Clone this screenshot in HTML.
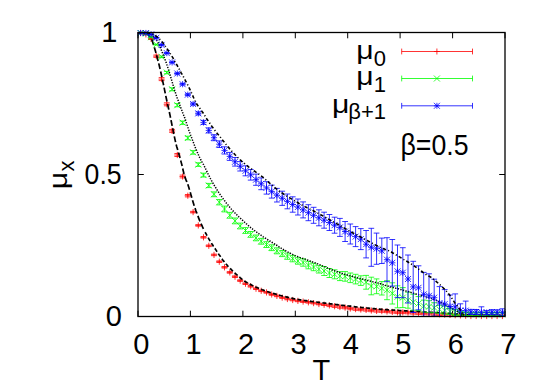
<!DOCTYPE html>
<html><head><meta charset="utf-8"><title>plot</title>
<style>
html,body{margin:0;padding:0;background:#fff;}
body{width:545px;height:390px;overflow:hidden;}
svg{display:block;}
text{font-family:"Liberation Sans",sans-serif;font-size:29px;fill:#000;}
.sub{font-size:22px;}
</style></head><body>
<svg width="545" height="390" viewBox="0 0 545 390">
<rect width="545" height="390" fill="#fff"/>
<defs><clipPath id="c"><rect x="138.0" y="32.5" width="367.0" height="284.0"/></clipPath></defs>
<g fill="none" stroke-linecap="butt">
<path d="M138 316.5v-5.8M138 32.5v5.8M190.4 316.5v-5.8M190.4 32.5v5.8M242.9 316.5v-5.8M242.9 32.5v5.8M295.3 316.5v-5.8M295.3 32.5v5.8M347.7 316.5v-5.8M347.7 32.5v5.8M400.1 316.5v-5.8M400.1 32.5v5.8M452.6 316.5v-5.8M452.6 32.5v5.8M505 316.5v-5.8M505 32.5v5.8M138 316.5h5.8M505 316.5h-5.8M138 174.5h5.8M505 174.5h-5.8M138 32.5h5.8M505 32.5h-5.8" stroke="#000" stroke-width="1"/>
<g stroke="#f00" stroke-width="0.8"><path clip-path="url(#c)" d="M140.6 32.7V33.3M137.7 32.7H143.5M137.7 33.3H143.5M145.9 34.1V34.7M143 34.1H148.8M143 34.7H148.8M151.1 38.3V39.5M148.2 38.3H154M148.2 39.5H154M156.3 55V57.4M153.4 55H159.2M153.4 57.4H159.2M161.6 77.6V80.6M158.7 77.6H164.5M158.7 80.6H164.5M166.8 102.8V105.8M163.9 102.8H169.7M163.9 105.8H169.7M172.1 129.4V132.4M169.2 129.4H175M169.2 132.4H175M177.3 153.5V156.5M174.4 153.5H180.2M174.4 156.5H180.2M182.6 175.1V177.9M179.7 175.1H185.5M179.7 177.9H185.5M187.8 194.5V196.9M184.9 194.5H190.7M184.9 196.9H190.7M193.1 211.3V212.9M190.2 211.3H196M190.2 212.9H196M198.3 224.6V226.2M195.4 224.6H201.2M195.4 226.2H201.2M203.5 236.5V238.1M200.6 236.5H206.4M200.6 238.1H206.4M208.8 245V246.6M205.9 245H211.7M205.9 246.6H211.7M214 254.1V255.7M211.1 254.1H216.9M211.1 255.7H216.9M219.3 260.9V262.5M216.4 260.9H222.2M216.4 262.5H222.2M224.5 266.5V268.1M221.6 266.5H227.4M221.6 268.1H227.4M229.8 271.6V273.2M226.8 271.6H232.7M226.8 273.2H232.7M235 275.9V277.5M232.1 275.9H237.9M232.1 277.5H237.9M240.2 279.8V281.4M237.3 279.8H243.1M237.3 281.4H243.1M245.5 282.9V284.5M242.6 282.9H248.4M242.6 284.5H248.4M250.7 285.5V287.1M247.8 285.5H253.6M247.8 287.1H253.6M256 287.9V289.5M253.1 287.9H258.9M253.1 289.5H258.9M261.2 290V291.6M258.3 290H264.1M258.3 291.6H264.1M266.5 291.6V293.2M263.6 291.6H269.4M263.6 293.2H269.4M271.7 293.7V295.3M268.8 293.7H274.6M268.8 295.3H274.6M276.9 295.1V296.7M274 295.1H279.8M274 296.7H279.8M282.2 296.8V298.4M279.3 296.8H285.1M279.3 298.4H285.1M287.4 298.2V299.8M284.5 298.2H290.3M284.5 299.8H290.3M292.7 299.2V300.8M289.8 299.2H295.6M289.8 300.8H295.6M297.9 300.1V301.7M295 300.1H300.8M295 301.7H300.8M303.1 300.8V302.4M300.2 300.8H306M300.2 302.4H306M308.4 301.5V303.1M305.5 301.5H311.3M305.5 303.1H311.3M313.6 302.3V303.9M310.7 302.3H316.5M310.7 303.9H316.5M318.9 303.2V304.8M316 303.2H321.8M316 304.8H321.8M324.1 303.9V305.5M321.2 303.9H327M321.2 305.5H327M329.4 304.2V306.6M326.5 304.2H332.3M326.5 306.6H332.3M334.6 305V307.4M331.7 305H337.5M331.7 307.4H337.5M339.9 305.8V308.2M337 305.8H342.8M337 308.2H342.8M345.1 306.4V308.8M342.2 306.4H348M342.2 308.8H348M350.3 307.3V309.7M347.4 307.3H353.2M347.4 309.7H353.2M355.6 307.9V310.3M352.7 307.9H358.5M352.7 310.3H358.5M360.8 308.3V310.7M357.9 308.3H363.7M357.9 310.7H363.7M366.1 308.7V311.1M363.2 308.7H369M363.2 311.1H369M371.3 309.3V311.7M368.4 309.3H374.2M368.4 311.7H374.2M376.6 309.7V312.1M373.7 309.7H379.4M373.7 312.1H379.4M381.8 309.9V312.3M378.9 309.9H384.7M378.9 312.3H384.7M387 310.3V312.7M384.1 310.3H389.9M384.1 312.7H389.9M392.3 310.7V313.1M389.4 310.7H395.2M389.4 313.1H395.2M397.5 311.2V313.6M394.6 311.2H400.4M394.6 313.6H400.4M402.8 311.2V313.6M399.9 311.2H405.7M399.9 313.6H405.7M408 311.4V313.8M405.1 311.4H410.9M405.1 313.8H410.9M413.2 311.7V314.1M410.4 311.7H416.1M410.4 314.1H416.1M418.5 312V314.4M415.6 312H421.4M415.6 314.4H421.4M423.7 312.3V314.7M420.8 312.3H426.6M420.8 314.7H426.6M429 312.5V314.9M426.1 312.5H431.9M426.1 314.9H431.9M434.2 312.8V315.2M431.3 312.8H437.1M431.3 315.2H437.1M439.5 313.1V315.5M436.6 313.1H442.4M436.6 315.5H442.4M444.7 313.4V315.8M441.8 313.4H447.6M441.8 315.8H447.6M450 313.7V316.1M447.1 313.7H452.9M447.1 316.1H452.9M455.2 314V316.4M452.3 314H458.1M452.3 316.4H458.1M460.4 314.2V316.6M457.5 314.2H463.3M457.5 316.6H463.3M465.7 314.5V316.9M462.8 314.5H468.6M462.8 316.9H468.6M470.9 314.8V317.2M468 314.8H473.8M468 317.2H473.8M476.2 314.8V317.2M473.3 314.8H479.1M473.3 317.2H479.1M481.4 314.8V317.2M478.5 314.8H484.3M478.5 317.2H484.3M486.7 314.8V317.2M483.8 314.8H489.6M483.8 317.2H489.6M491.9 314.8V317.2M489 314.8H494.8M489 317.2H494.8M497.1 314.8V317.2M494.2 314.8H500M494.2 317.2H500M502.4 314.8V317.2M499.5 314.8H505.3M499.5 317.2H505.3"/><path d="M137.5 33H143.7M140.6 29.9V36.1M142.8 34.4H149M145.9 31.3V37.5M148 38.9H154.2M151.1 35.8V42M153.2 56.2H159.4M156.3 53.1V59.3M158.5 79.1H164.7M161.6 76V82.2M163.7 104.3H169.9M166.8 101.2V107.4M169 130.9H175.2M172.1 127.8V134M174.2 155H180.4M177.3 151.9V158.1M179.5 176.5H185.7M182.6 173.4V179.6M184.7 195.7H190.9M187.8 192.6V198.8M190 212.1H196.2M193.1 209V215.2M195.2 225.4H201.4M198.3 222.3V228.5M200.4 237.3H206.6M203.5 234.2V240.4M205.7 245.8H211.9M208.8 242.7V248.9M210.9 254.9H217.1M214 251.8V258M216.2 261.7H222.4M219.3 258.6V264.8M221.4 267.3H227.6M224.5 264.2V270.4M226.7 272.4H232.8M229.8 269.3V275.5M231.9 276.7H238.1M235 273.6V279.8M237.1 280.6H243.3M240.2 277.5V283.7M242.4 283.7H248.6M245.5 280.6V286.8M247.6 286.3H253.8M250.7 283.2V289.4M252.9 288.7H259.1M256 285.6V291.8M258.1 290.8H264.3M261.2 287.7V293.9M263.4 292.4H269.6M266.5 289.3V295.5M268.6 294.5H274.8M271.7 291.4V297.6M273.8 295.9H280M276.9 292.8V299M279.1 297.6H285.3M282.2 294.5V300.7M284.3 299H290.5M287.4 295.9V302.1M289.6 300H295.8M292.7 296.9V303.1M294.8 300.9H301M297.9 297.8V304M300 301.6H306.2M303.1 298.5V304.7M305.3 302.3H311.5M308.4 299.2V305.4M310.5 303.1H316.7M313.6 300V306.2M315.8 304H322M318.9 300.9V307.1M321 304.7H327.2M324.1 301.6V307.8M326.3 305.4H332.5M329.4 302.3V308.5M331.5 306.2H337.7M334.6 303.1V309.3M336.8 307H343M339.9 303.9V310.1M342 307.6H348.2M345.1 304.5V310.7M347.2 308.5H353.4M350.3 305.4V311.6M352.5 309.1H358.7M355.6 306V312.2M357.7 309.5H363.9M360.8 306.4V312.6M363 309.9H369.2M366.1 306.8V313M368.2 310.5H374.4M371.3 307.4V313.6M373.4 310.9H379.7M376.6 307.8V314M378.7 311.1H384.9M381.8 308V314.2M383.9 311.5H390.1M387 308.4V314.6M389.2 311.9H395.4M392.3 308.8V315M394.4 312.4H400.6M397.5 309.3V315.5M399.7 312.4H405.9M402.8 309.3V315.5M404.9 312.6H411.1M408 309.5V315.7M410.1 312.9H416.4M413.2 309.8V316M415.4 313.2H421.6M418.5 310.1V316.3M420.6 313.5H426.8M423.7 310.4V316.6M425.9 313.7H432.1M429 310.6V316.8M431.1 314H437.3M434.2 310.9V317.1M436.4 314.3H442.6M439.5 311.2V317.4M441.6 314.6H447.8M444.7 311.5V317.7M446.9 314.9H453.1M450 311.8V318M452.1 315.2H458.3M455.2 312.1V318.3M457.3 315.4H463.5M460.4 312.3V318.5M462.6 315.7H468.8M465.7 312.6V318.8M467.8 316H474M470.9 312.9V319.1M473.1 316H479.3M476.2 312.9V319.1M478.3 316H484.5M481.4 312.9V319.1M483.6 316H489.8M486.7 312.9V319.1M488.8 316H495M491.9 312.9V319.1M494 316H500.2M497.1 312.9V319.1M499.3 316H505.5M502.4 312.9V319.1"/></g>
<path d="M138 32.8L138.9 32.8L139.8 32.8L140.8 32.8L141.7 32.9L142.6 32.9L143.5 33L144.4 33.1L145.4 33.2L146.3 33.5L147.2 34L148.1 34.7L149 35.6L150 36.7L150.9 37.8L151.8 39.7L152.7 42.2L153.6 45.1L154.6 48.2L155.5 51.3L156.4 54.4L157.3 57.8L158.2 61.4L159.2 65.2L160.1 69.1L161 73L161.9 77.2L162.8 81.6L163.8 86.1L164.7 90.6L165.6 95L166.5 99.2L167.4 103.5L168.4 107.7L169.3 111.9L170.2 116.2L171.1 120.5L172 125.1L173 129.8L173.9 134.3L174.8 138.7L175.7 142.7L176.6 146.2L177.6 149.6L178.5 152.7L179.4 155.8L180.3 159L181.2 162.4L182.2 166.2L183.1 170.2L184 173.9L184.9 176.9L185.8 179.4L186.7 181.6L187.7 184L188.6 186.7L189.5 189.7L190.4 192.8L191.3 196.1L192.3 199.4L193.2 202.5L194.1 205.4L195 208.1L195.9 210.7L196.9 213.3L197.8 215.7L198.7 218.1L199.6 220.4L200.5 222.5L201.5 224.6L202.4 226.7L203.3 228.6L204.2 230.4" stroke="#000" stroke-width="1.7" stroke-dasharray="5.8 2.5"/>
<path d="M205.1 232.2L206.1 233.9L207 235.6L207.9 237.2L208.8 238.8L209.7 240.4L210.7 241.9L211.6 243.4L212.5 244.8L213.4 246.3L214.3 247.7L215.3 249L216.2 250.4L217.1 251.8L218 253.2L218.9 254.5L219.9 255.8L220.8 257.2L221.7 258.4L222.6 259.7L223.5 260.9L224.5 262.1L225.4 263.2L226.3 264.3L227.2 265.3L228.1 266.3L229.1 267.3L230 268.3L230.9 269.2L231.8 270.1L232.7 271L233.7 271.9L234.6 272.7L235.5 273.6L236.4 274.4L237.3 275.2L238.3 276L239.2 276.8L240.1 277.6L241 278.3L241.9 279.1L242.9 279.8L243.8 280.5L244.7 281.2L245.6 281.8L246.5 282.3L247.5 282.9L248.4 283.4L249.3 283.9L250.2 284.4L251.1 284.8L252.1 285.3L253 285.7L253.9 286.1L254.8 286.6L255.7 287L256.7 287.4L257.6 287.8L258.5 288.2L259.4 288.6L260.3 288.9L261.3 289.3L262.2 289.7L263.1 290L264 290.4L264.9 290.7L265.9 291.1L266.8 291.4L267.7 291.7L268.6 292L269.5 292.3L270.5 292.6L271.4 292.9L272.3 293.1L273.2 293.4L274.1 293.7L275.1 293.9L276 294.2L276.9 294.5L277.8 294.7L278.7 295L279.6 295.2L280.6 295.5L281.5 295.7L282.4 296L283.3 296.2L284.2 296.5L285.2 296.7L286.1 296.9L287 297.1L287.9 297.3L288.8 297.6L289.8 297.8L290.7 298L291.6 298.2L292.5 298.4L293.4 298.6L294.4 298.8L295.3 299L296.2 299.1L297.1 299.3L298 299.5L299 299.6L299.9 299.8L300.8 299.9L301.7 300.1L302.6 300.2L303.6 300.3L304.5 300.5L305.4 300.6L306.3 300.7L307.2 300.9L308.2 301L309.1 301.1L310 301.2L310.9 301.3L311.8 301.5L312.8 301.6L313.7 301.7L314.6 301.8L315.5 301.9L316.4 302L317.4 302.2L318.3 302.3L319.2 302.4L320.1 302.5L321 302.6L322 302.8L322.9 302.9L323.8 303L324.7 303.1L325.6 303.2L326.6 303.3L327.5 303.5L328.4 303.6L329.3 303.7L330.2 303.8L331.2 303.9L332.1 304L333 304.2L333.9 304.3L334.8 304.4L335.8 304.5L336.7 304.6L337.6 304.7L338.5 304.8L339.4 304.9L340.4 305L341.3 305.2L342.2 305.3L343.1 305.4L344 305.5L345 305.6L345.9 305.7L346.8 305.8L347.7 305.9L348.6 306L349.6 306.1L350.5 306.2L351.4 306.4L352.3 306.5L353.2 306.6L354.2 306.7L355.1 306.8L356 306.9L356.9 307L357.8 307.1L358.8 307.2L359.7 307.3L360.6 307.4L361.5 307.5L362.4 307.6L363.4 307.6L364.3 307.7L365.2 307.8L366.1 307.9L367 308L367.9 308.1L368.9 308.2L369.8 308.3L370.7 308.4L371.6 308.5L372.5 308.6L373.5 308.6L374.4 308.7L375.3 308.8L376.2 308.9L377.1 309L378.1 309L379 309.1L379.9 309.2L380.8 309.3L381.7 309.3L382.7 309.4L383.6 309.5L384.5 309.5L385.4 309.6L386.3 309.7L387.3 309.7L388.2 309.8L389.1 309.8L390 309.9L390.9 310L391.9 310L392.8 310.1L393.7 310.1L394.6 310.2L395.5 310.2L396.5 310.3L397.4 310.4L398.3 310.4L399.2 310.5L400.1 310.5L401.1 310.6L402 310.6L402.9 310.7L403.8 310.7L404.7 310.8L405.7 310.8L406.6 310.9L407.5 311L408.4 311L409.3 311.1L410.3 311.1L411.2 311.2L412.1 311.2L413 311.3L413.9 311.3L414.9 311.4L415.8 311.4L416.7 311.5L417.6 311.5L418.5 311.6L419.5 311.6L420.4 311.7L421.3 311.7L422.2 311.8L423.1 311.9L424.1 311.9L425 312L425.9 312L426.8 312.1L427.7 312.1L428.7 312.2L429.6 312.2L430.5 312.3L431.4 312.3L432.3 312.4L433.3 312.4L434.2 312.5L435.1 312.5L436 312.6L436.9 312.6L437.9 312.7L438.8 312.7L439.7 312.8L440.6 312.8L441.5 312.9L442.5 312.9L443.4 313L444.3 313.1L445.2 313.1L446.1 313.2L447.1 313.2L448 313.3L448.9 313.3L449.8 313.4L450.7 313.5L451.7 313.5L452.6 313.6L453.5 313.6L454.4 313.7L455.3 313.8L456.3 313.8L457.2 313.9L458.1 313.9L459 314L459.9 314L460.8 314.1L461.8 314.2L462.7 314.2L463.6 314.3L464.5 314.3L465.4 314.4L466.4 314.4L467.3 314.5L468.2 314.5L469.1 314.6L470 314.6L471 314.6L471.9 314.7L472.8 314.7L473.7 314.8L474.6 314.8L475.6 314.9L476.5 314.9L477.4 314.9L478.3 315L479.2 315L480.2 315.1L481.1 315.1L482 315.2L482.9 315.2L483.8 315.2L484.8 315.3L485.7 315.3L486.6 315.3L487.5 315.4L488.4 315.4L489.4 315.5L490.3 315.5L491.2 315.5L492.1 315.6L493 315.6L494 315.6L494.9 315.7L495.8 315.7L496.7 315.7L497.6 315.8L498.6 315.8L499.5 315.8L500.4 315.9L501.3 315.9L502.2 315.9L503.2 315.9L504.1 316L505 316" stroke="#000" stroke-width="1.7" stroke-dasharray="4 2.3"/>
<g stroke="#0f0" stroke-width="0.8"><path clip-path="url(#c)" d="M140.6 32.7V33.3M137.7 32.7H143.5M137.7 33.3H143.5M145.9 33.3V33.9M143 33.3H148.8M143 33.9H148.8M151.1 36.9V37.5M148.2 36.9H154M148.2 37.5H154M156.3 44.2V45M153.4 44.2H159.2M153.4 45H159.2M161.6 56V57.6M158.7 56H164.5M158.7 57.6H164.5M166.8 71.4V73.8M163.9 71.4H169.7M163.9 73.8H169.7M172.1 87.8V90.8M169.2 87.8H175M169.2 90.8H175M177.3 103.6V106.8M174.4 103.6H180.2M174.4 106.8H180.2M182.6 121V124.4M179.7 121H185.5M179.7 124.4H185.5M187.8 136.2V139.8M184.9 136.2H190.7M184.9 139.8H190.7M193.1 150.6V154.2M190.2 150.6H196M190.2 154.2H196M198.3 162.8V166.4M195.4 162.8H201.2M195.4 166.4H201.2M203.5 173.2V177M200.6 173.2H206.4M200.6 177H206.4M208.8 183.4V187.6M205.9 183.4H211.7M205.9 187.6H211.7M214 191.9V196.7M211.1 191.9H216.9M211.1 196.7H216.9M219.3 199.5V204.9M216.4 199.5H222.2M216.4 204.9H222.2M224.5 206.1V211.9M221.6 206.1H227.4M221.6 211.9H227.4M229.8 212.4V218.2M226.8 212.4H232.7M226.8 218.2H232.7M235 218V223.8M232.1 218H237.9M232.1 223.8H237.9M240.2 223.1V228.9M237.3 223.1H243.1M237.3 228.9H243.1M245.5 227.6V233.4M242.6 227.6H248.4M242.6 233.4H248.4M250.7 231.5V237.3M247.8 231.5H253.6M247.8 237.3H253.6M256 235V240.8M253.1 235H258.9M253.1 240.8H258.9M261.2 238.4V244.2M258.3 238.4H264.1M258.3 244.2H264.1M266.5 241.7V247.5M263.6 241.7H269.4M263.6 247.5H269.4M271.7 244.8V250.6M268.8 244.8H274.6M268.8 250.6H274.6M276.9 247.8V253.8M274 247.8H279.8M274 253.8H279.8M282.2 250.5V256.6M279.3 250.5H285.1M279.3 256.6H285.1M287.4 253V259.3M284.5 253H290.3M284.5 259.3H290.3M292.7 255.4V261.8M289.8 255.4H295.6M289.8 261.8H295.6M297.9 257.7V264.2M295 257.7H300.8M295 264.2H300.8M303.1 258.8V266.2M300.2 258.8H306M300.2 266.2H306M308.4 261.4V268.8M305.5 261.4H311.3M305.5 268.8H311.3M313.6 263.3V270.7M310.7 263.3H316.5M310.7 270.7H316.5M318.9 265.6V273M316 265.6H321.8M316 273H321.8M324.1 266.5V275.5M321.2 266.5H327M321.2 275.5H327M329.4 268.5V277.5M326.5 268.5H332.3M326.5 277.5H332.3M334.6 269.8V278.8M331.7 269.8H337.5M331.7 278.8H337.5M339.9 271.6V280.6M337 271.6H342.8M337 280.6H342.8M345.1 271.6V281.2M342.2 271.6H348M342.2 281.2H348M350.3 273V282.6M347.4 273H353.2M347.4 282.6H353.2M355.6 274.3V283.9M352.7 274.3H358.5M352.7 283.9H358.5M360.8 275.8V285.4M357.9 275.8H363.7M357.9 285.4H363.7M366.1 275.4V289.2M363.2 275.4H369M363.2 289.2H369M371.3 277.2V294.8M368.4 277.2H374.2M368.4 294.8H374.2M376.6 278.9V293.7M373.7 278.9H379.4M373.7 293.7H379.4M381.8 281.6V295M378.9 281.6H384.7M378.9 295H384.7M387 280.7V299.7M384.1 280.7H389.9M384.1 299.7H389.9M392.3 282.8V304M389.4 282.8H395.2M389.4 304H395.2M397.5 285.8V307.8M394.6 285.8H400.4M394.6 307.8H400.4M402.8 287.6V307.6M399.9 287.6H405.7M399.9 307.6H405.7M408 292.2V308.2M405.1 292.2H410.9M405.1 308.2H410.9M413.2 294.2V310.2M410.4 294.2H416.1M410.4 310.2H416.1M418.5 296.6V310.6M415.6 296.6H421.4M415.6 310.6H421.4M423.7 300.1V312.1M420.8 300.1H426.6M420.8 312.1H426.6M429 300.7V312.7M426.1 300.7H431.9M426.1 312.7H431.9M434.2 302.7V312.7M431.3 302.7H437.1M431.3 312.7H437.1M439.5 305.3V313.3M436.6 305.3H442.4M436.6 313.3H442.4M444.7 306.2V314.2M441.8 306.2H447.6M441.8 314.2H447.6M450 308.5V314.5M447.1 308.5H452.9M447.1 314.5H452.9M455.2 309.5V315.5M452.3 309.5H458.1M452.3 315.5H458.1M460.4 312V315M457.5 312H463.3M457.5 315H463.3M465.7 312.5V315.5M462.8 312.5H468.6M462.8 315.5H468.6M470.9 312.8V315.8M468 312.8H473.8M468 315.8H473.8M476.2 312.8V315.8M473.3 312.8H479.1M473.3 315.8H479.1M481.4 312.8V315.8M478.5 312.8H484.3M478.5 315.8H484.3M486.7 312.8V315.8M483.8 312.8H489.6M483.8 315.8H489.6M491.9 312.8V315.8M489 312.8H494.8M489 315.8H494.8M497.1 312.8V315.8M494.2 312.8H500M494.2 315.8H500M502.4 312.8V315.8M499.5 312.8H505.3M499.5 315.8H505.3"/><path d="M137.6 30L143.6 36M137.6 36L143.6 30M142.9 30.6L148.9 36.6M142.9 36.6L148.9 30.6M148.1 34.2L154.1 40.2M148.1 40.2L154.1 34.2M153.3 41.6L159.3 47.6M153.3 47.6L159.3 41.6M158.6 53.8L164.6 59.8M158.6 59.8L164.6 53.8M163.8 69.6L169.8 75.6M163.8 75.6L169.8 69.6M169.1 86.3L175.1 92.3M169.1 92.3L175.1 86.3M174.3 102.2L180.3 108.2M174.3 108.2L180.3 102.2M179.6 119.7L185.6 125.7M179.6 125.7L185.6 119.7M184.8 135L190.8 141M184.8 141L190.8 135M190.1 149.4L196.1 155.4M190.1 155.4L196.1 149.4M195.3 161.6L201.3 167.6M195.3 167.6L201.3 161.6M200.5 172.1L206.5 178.1M200.5 178.1L206.5 172.1M205.8 182.5L211.8 188.5M205.8 188.5L211.8 182.5M211 191.3L217 197.3M211 197.3L217 191.3M216.3 199.2L222.3 205.2M216.3 205.2L222.3 199.2M221.5 206L227.5 212M221.5 212L227.5 206M226.8 212.3L232.8 218.3M226.8 218.3L232.8 212.3M232 217.9L238 223.9M232 223.9L238 217.9M237.2 223L243.2 229M237.2 229L243.2 223M242.5 227.5L248.5 233.5M242.5 233.5L248.5 227.5M247.7 231.4L253.7 237.4M247.7 237.4L253.7 231.4M253 234.9L259 240.9M253 240.9L259 234.9M258.2 238.3L264.2 244.3M258.2 244.3L264.2 238.3M263.5 241.6L269.5 247.6M263.5 247.6L269.5 241.6M268.7 244.7L274.7 250.7M268.7 250.7L274.7 244.7M273.9 247.8L279.9 253.8M273.9 253.8L279.9 247.8M279.2 250.6L285.2 256.6M279.2 256.6L285.2 250.6M284.4 253.1L290.4 259.1M284.4 259.1L290.4 253.1M289.7 255.6L295.7 261.6M289.7 261.6L295.7 255.6M294.9 258L300.9 264M294.9 264L300.9 258M300.1 259.5L306.1 265.5M300.1 265.5L306.1 259.5M305.4 262.1L311.4 268.1M305.4 268.1L311.4 262.1M310.6 264L316.6 270M310.6 270L316.6 264M315.9 266.3L321.9 272.3M315.9 272.3L321.9 266.3M321.1 268L327.1 274M321.1 274L327.1 268M326.4 270L332.4 276M326.4 276L332.4 270M331.6 271.3L337.6 277.3M331.6 277.3L337.6 271.3M336.9 273.1L342.9 279.1M336.9 279.1L342.9 273.1M342.1 273.4L348.1 279.4M342.1 279.4L348.1 273.4M347.3 274.8L353.3 280.8M347.3 280.8L353.3 274.8M352.6 276.1L358.6 282.1M352.6 282.1L358.6 276.1M357.8 277.6L363.8 283.6M357.8 283.6L363.8 277.6M363.1 279.3L369.1 285.3M363.1 285.3L369.1 279.3M368.3 283L374.3 289M368.3 289L374.3 283M373.6 283.3L379.6 289.3M373.6 289.3L379.6 283.3M378.8 285.3L384.8 291.3M378.8 291.3L384.8 285.3M384 287.2L390 293.2M384 293.2L390 287.2M389.3 290.4L395.3 296.4M389.3 296.4L395.3 290.4M394.5 293.8L400.5 299.8M394.5 299.8L400.5 293.8M399.8 294.6L405.8 300.6M399.8 300.6L405.8 294.6M405 297.2L411 303.2M405 303.2L411 297.2M410.2 299.2L416.2 305.2M410.2 305.2L416.2 299.2M415.5 300.6L421.5 306.6M415.5 306.6L421.5 300.6M420.7 303.1L426.7 309.1M420.7 309.1L426.7 303.1M426 303.7L432 309.7M426 309.7L432 303.7M431.2 304.7L437.2 310.7M431.2 310.7L437.2 304.7M436.5 306.3L442.5 312.3M436.5 312.3L442.5 306.3M441.7 307.2L447.7 313.2M441.7 313.2L447.7 307.2M447 308.5L453 314.5M447 314.5L453 308.5M452.2 309.5L458.2 315.5M452.2 315.5L458.2 309.5M457.4 310.5L463.4 316.5M457.4 316.5L463.4 310.5M462.7 311L468.7 317M462.7 317L468.7 311M467.9 311.3L473.9 317.3M467.9 317.3L473.9 311.3M473.2 311.3L479.2 317.3M473.2 317.3L479.2 311.3M478.4 311.3L484.4 317.3M478.4 317.3L484.4 311.3M483.7 311.3L489.7 317.3M483.7 317.3L489.7 311.3M488.9 311.3L494.9 317.3M488.9 317.3L494.9 311.3M494.1 311.3L500.1 317.3M494.1 317.3L500.1 311.3M499.4 311.3L505.4 317.3M499.4 317.3L505.4 311.3"/></g>
<path d="M138 32.8L138.8 32.8L139.6 32.8L140.4 32.8L141.3 32.8L142.1 32.9L142.9 32.9L143.7 32.9L144.5 32.9L145.3 33L146.1 33L146.9 33L147.8 33.1L148.6 33.2L149.4 33.4L150.2 33.8L151 34.3L151.8 35L152.6 35.7L153.5 36.6L154.3 37.5L155.1 38.4L155.9 39.4L156.7 40.4L157.5 41.6L158.3 43L159.1 44.7L160 46.6L160.8 48.6L161.6 50.7L162.4 52.7L163.2 54.7L164 56.8L164.8 59L165.7 61.3L166.5 63.6L167.3 66L168.1 68.4L168.9 70.9L169.7 73.5L170.5 76.3L171.3 79.1L172.2 82L173 84.9L173.8 87.6L174.6 90.2L175.4 92.6L176.2 95.1L177 97.4L177.9 99.7L178.7 102L179.5 104.3L180.3 106.4L181.1 108.5L181.9 110.6L182.7 112.7L183.5 114.8L184.4 117L185.2 119.3L186 121.7L186.8 124.1L187.6 126.5L188.4 128.9L189.2 131.3L190.1 133.6L190.9 135.8L191.7 138L192.5 140.2L193.3 142.3L194.1 144.4L194.9 146.5L195.7 148.6L196.6 150.6L197.4 152.5L198.2 154.4L199 156.2L199.8 157.9L200.6 159.4L201.4 160.9L202.2 162.4L203.1 163.9L203.9 165.4L204.7 167L205.5 168.6L206.3 170.3L207.1 171.9L207.9 173.6L208.8 175.3L209.6 176.9L210.4 178.5L211.2 180L212 181.5L212.8 182.9L213.6 184.3L214.4 185.6L215.3 187L216.1 188.3L216.9 189.6L217.7 190.9L218.5 192.1L219.3 193.3L220.1 194.5L221 195.7L221.8 196.9L222.6 198L223.4 199.1L224.2 200.2L225 201.3L225.8 202.4L226.6 203.4L227.5 204.4L228.3 205.4L229.1 206.4L229.9 207.4L230.7 208.3L231.5 209.3L232.3 210.2L233.2 211.1L234 211.9L234.8 212.8L235.6 213.6L236.4 214.4L237.2 215.2L238 216L238.8 216.8L239.7 217.6L240.5 218.4L241.3 219.1L242.1 219.9L242.9 220.6L243.7 221.4L244.5 222.1L245.4 222.8L246.2 223.6L247 224.3L247.8 225L248.6 225.7L249.4 226.4L250.2 227.1L251 227.8L251.9 228.4L252.7 229.1L253.5 229.7L254.3 230.4L255.1 231L255.9 231.6L256.7 232.2L257.6 232.8L258.4 233.4L259.2 234L260 234.6L260.8 235.1L261.6 235.7L262.4 236.3L263.2 236.8L264.1 237.3L264.9 237.9L265.7 238.4L266.5 239L267.3 239.5L268.1 240L268.9 240.5L269.8 241L270.6 241.5L271.4 242L272.2 242.5L273 243L273.8 243.5L274.6 244L275.4 244.5L276.3 245L277.1 245.5L277.9 246L278.7 246.6L279.5 247.1L280.3 247.6L281.1 248.1L282 248.6L282.8 249.1L283.6 249.6L284.4 250L285.2 250.5L286 251L286.8 251.4L287.6 251.9L288.5 252.3L289.3 252.8L290.1 253.2L290.9 253.6L291.7 254.1L292.5 254.4L293.3 254.8L294.2 255.2L295 255.6L295.8 255.9L296.6 256.2L297.4 256.5L298.2 256.8L299 257.1L299.8 257.4L300.7 257.7L301.5 258L302.3 258.3L303.1 258.5L303.9 258.8L304.7 259.1L305.5 259.4L306.3 259.7L307.2 260L308 260.3L308.8 260.6L309.6 260.9L310.4 261.2L311.2 261.5L312 261.8L312.9 262.1L313.7 262.4L314.5 262.7L315.3 263L316.1 263.3L316.9 263.6L317.7 263.9L318.5 264.2L319.4 264.6L320.2 264.9L321 265.2L321.8 265.5L322.6 265.9L323.4 266.2L324.2 266.6L325.1 266.9L325.9 267.3L326.7 267.6L327.5 268L328.3 268.3L329.1 268.7L329.9 269L330.7 269.3L331.6 269.7L332.4 270L333.2 270.3L334 270.6L334.8 270.9L335.6 271.2L336.4 271.5L337.3 271.8L338.1 272.1L338.9 272.4L339.7 272.6L340.5 272.9L341.3 273.2L342.1 273.4L342.9 273.7L343.8 273.9L344.6 274.2L345.4 274.4L346.2 274.7L347 274.9L347.8 275.2L348.6 275.4L349.5 275.6L350.3 275.9L351.1 276.1L351.9 276.3L352.7 276.6L353.5 276.8L354.3 277L355.1 277.2L356 277.5L356.8 277.7L357.6 277.9L358.4 278.1L359.2 278.3L360 278.5L360.8 278.7L361.7 278.9L362.5 279.1L363.3 279.4L364.1 279.6L364.9 279.8L365.7 280L366.5 280.2L367.3 280.4L368.2 280.6L369 280.8L369.8 281L370.6 281.2L371.4 281.4L372.2 281.6L373 281.8L373.9 282L374.7 282.2L375.5 282.4L376.3 282.6L377.1 282.8L377.9 283L378.7 283.2L379.5 283.5L380.4 283.7L381.2 284L382 284.3L382.8 284.6L383.6 284.8L384.4 285.1L385.2 285.4L386.1 285.6L386.9 285.8L387.7 286.1L388.5 286.3L389.3 286.5L390.1 286.7L390.9 286.9L391.7 287.2L392.6 287.4L393.4 287.6L394.2 287.8L395 288L395.8 288.2L396.6 288.4L397.4 288.6L398.3 288.8L399.1 289L399.9 289.3L400.7 289.5L401.5 289.7L402.3 290L403.1 290.2L403.9 290.4L404.8 290.7L405.6 290.9L406.4 291.1L407.2 291.4L408 291.6L408.8 291.8L409.6 292.1L410.4 292.3L411.3 292.6L412.1 292.8L412.9 293L413.7 293.3L414.5 293.5L415.3 293.7L416.1 294L417 294.2L417.8 294.4L418.6 294.7L419.4 294.9L420.2 295.2L421 295.4L421.8 295.6L422.6 295.9L423.5 296.1L424.3 296.4L425.1 296.6L425.9 296.9L426.7 297.1L427.5 297.4L428.3 297.6L429.2 297.9L430 298.1L430.8 298.4L431.6 298.6L432.4 298.9L433.2 299.2L434 299.5L434.8 299.8L435.7 300.2L436.5 300.5L437.3 300.9L438.1 301.3L438.9 301.6L439.7 302L440.5 302.4L441.4 302.8L442.2 303.2L443 303.6L443.8 304L444.6 304.5L445.4 304.9L446.2 305.3L447 305.7L447.9 306.1L448.7 306.6L449.5 307L450.3 307.4L451.1 307.9L451.9 308.4L452.7 308.8L453.6 309.3L454.4 309.8L455.2 310.2L456 310.7L456.8 311.2L457.6 311.7L458.4 312.3L459.2 312.9L460.1 313.6L460.9 314.4L461.7 315.4L462.5 316.5" stroke="#000" stroke-width="1.5" stroke-dasharray="1.3 1.35"/>
<g stroke="#00f" stroke-width="0.8"><path clip-path="url(#c)" d="M140.6 32.7V33.3M137.7 32.7H143.5M137.7 33.3H143.5M145.9 32.7V33.3M143 32.7H148.8M143 33.3H148.8M151.1 34.1V34.7M148.2 34.1H154M148.2 34.7H154M156.3 37.5V38.1M153.4 37.5H159.2M153.4 38.1H159.2M161.6 44.5V45.3M158.7 44.5H164.5M158.7 45.3H164.5M166.8 52.6V53.6M163.9 52.6H169.7M163.9 53.6H169.7M172.1 61.8V63M169.2 61.8H175M169.2 63H175M177.3 72.8V74.2M174.4 72.8H180.2M174.4 74.2H180.2M182.6 83.4V85M179.7 83.4H185.5M179.7 85H185.5M187.8 93.8V95.6M184.9 93.8H190.7M184.9 95.6H190.7M193.1 103V105M190.2 103H196M190.2 105H196M198.3 111.9V114.9M195.4 111.9H201.2M195.4 114.9H201.2M203.5 120.4V124.4M200.6 120.4H206.4M200.6 124.4H206.4M208.8 127.9V132.9M205.9 127.9H211.7M205.9 132.9H211.7M214 134.7V140.7M211.1 134.7H216.9M211.1 140.7H216.9M219.3 140.9V147.5M216.4 140.9H222.2M216.4 147.5H222.2M224.5 146.8V154M221.6 146.8H227.4M221.6 154H227.4M229.8 152.4V160.4M226.8 152.4H232.7M226.8 160.4H232.7M235 157.5V166.1M232.1 157.5H237.9M232.1 166.1H237.9M240.2 161.6V171M237.3 161.6H243.1M237.3 171H243.1M245.5 165.8V175.8M242.6 165.8H248.4M242.6 175.8H248.4M250.7 169.5V180.1M247.8 169.5H253.6M247.8 180.1H253.6M256 174.1V185.3M253.1 174.1H258.9M253.1 185.3H258.9M261.2 177.9V189.7M258.3 177.9H264.1M258.3 189.7H264.1M266.5 181.7V194.1M263.6 181.7H269.4M263.6 194.1H269.4M271.7 185.1V198.1M268.8 185.1H274.6M268.8 198.1H274.6M276.9 188.4V202M274 188.4H279.8M274 202H279.8M282.2 191.2V205.4M279.3 191.2H285.1M279.3 205.4H285.1M287.4 194V208.8M284.5 194H290.3M284.5 208.8H290.3M292.7 196.8V212.2M289.8 196.8H295.6M289.8 212.2H295.6M297.9 199V215M295 199H300.8M295 215H300.8M303.1 201.9V217.9M300.2 201.9H306M300.2 217.9H306M308.4 204.7V220.7M305.5 204.7H311.3M305.5 220.7H311.3M313.6 207.3V223.3M310.7 207.3H316.5M310.7 223.3H316.5M318.9 209.8V225.8M316 209.8H321.8M316 225.8H321.8M324.1 212.2V228.2M321.2 212.2H327M321.2 228.2H327M329.4 214.5V230.5M326.5 214.5H332.3M326.5 230.5H332.3M334.6 217.2V233.2M331.7 217.2H337.5M331.7 233.2H337.5M339.9 218.4V236.4M337 218.4H342.8M337 236.4H342.8M345.1 221.5V241.5M342.2 221.5H348M342.2 241.5H348M350.3 224V244M347.4 224H353.2M347.4 244H353.2M355.6 226.6V246.6M352.7 226.6H358.5M352.7 246.6H358.5M360.8 228.6V249.6M357.9 228.6H363.7M357.9 249.6H363.7M366.1 230.5V257.9M363.2 230.5H369M363.2 257.9H369M371.3 228.3V266.3M368.4 228.3H374.2M368.4 266.3H374.2M376.6 233.1V264.3M373.7 233.1H379.4M373.7 264.3H379.4M381.8 238.1V263.5M378.9 238.1H384.7M378.9 263.5H384.7M387 237.7V281.7M384.1 237.7H389.9M384.1 281.7H389.9M392.3 239.5V286.1M389.4 239.5H395.2M389.4 286.1H395.2M397.5 245V297.6M394.6 245H400.4M394.6 297.6H400.4M402.8 247.7V297.7M399.9 247.7H405.7M399.9 297.7H405.7M408 255V303M405.1 255H410.9M405.1 303H410.9M413.2 261.3V312.5M410.4 261.3H416.1M410.4 312.5H416.1M418.5 265.8V309.8M415.6 265.8H421.4M415.6 309.8H421.4M423.7 272.4V316.4M420.8 272.4H426.6M420.8 316.4H426.6M429 273.8V317.8M426.1 273.8H431.9M426.1 317.8H431.9M434.2 279.2V316.2M431.3 279.2H437.1M431.3 316.2H437.1M439.5 286.6V319.4M436.6 286.6H442.4M436.6 319.4H442.4M444.7 289.6V318.6M441.8 289.6H447.6M441.8 318.6H447.6M450 295V318M447.1 295H452.9M447.1 318H452.9M455.2 293.9V319.9M452.3 293.9H458.1M452.3 319.9H458.1M460.4 303.8V317.4M457.5 303.8H463.3M457.5 317.4H463.3M465.7 301.1V320.1M462.8 301.1H468.6M462.8 320.1H468.6M470.9 309.4V314.4M468 309.4H473.8M468 314.4H473.8M476.2 309.5V314.5M473.3 309.5H479.1M473.3 314.5H479.1M481.4 306.8V317.8M478.5 306.8H484.3M478.5 317.8H484.3M486.7 310.6V314.6M483.8 310.6H489.6M483.8 314.6H489.6M491.9 309.7V314.7M489 309.7H494.8M489 314.7H494.8M497.1 309.8V314.8M494.2 309.8H500M494.2 314.8H500M502.4 308.8V315.8M499.5 308.8H505.3M499.5 315.8H505.3"/><path d="M137.5 33H143.7M140.6 29.9V36.1M137.6 30L143.6 36M137.6 36L143.6 30M142.8 33H149M145.9 29.9V36.1M142.9 30L148.9 36M142.9 36L148.9 30M148 34.4H154.2M151.1 31.3V37.5M148.1 31.4L154.1 37.4M148.1 37.4L154.1 31.4M153.2 37.8H159.4M156.3 34.7V40.9M153.3 34.8L159.3 40.8M153.3 40.8L159.3 34.8M158.5 44.9H164.7M161.6 41.8V48M158.6 41.9L164.6 47.9M158.6 47.9L164.6 41.9M163.7 53.1H169.9M166.8 50V56.2M163.8 50.1L169.8 56.1M163.8 56.1L169.8 50.1M169 62.4H175.2M172.1 59.3V65.5M169.1 59.4L175.1 65.4M169.1 65.4L175.1 59.4M174.2 73.5H180.4M177.3 70.4V76.6M174.3 70.5L180.3 76.5M174.3 76.5L180.3 70.5M179.5 84.2H185.7M182.6 81.1V87.3M179.6 81.2L185.6 87.2M179.6 87.2L185.6 81.2M184.7 94.7H190.9M187.8 91.6V97.8M184.8 91.7L190.8 97.7M184.8 97.7L190.8 91.7M190 104H196.2M193.1 100.9V107.1M190.1 101L196.1 107M190.1 107L196.1 101M195.2 113.4H201.4M198.3 110.3V116.5M195.3 110.4L201.3 116.4M195.3 116.4L201.3 110.4M200.4 122.4H206.6M203.5 119.3V125.5M200.5 119.4L206.5 125.4M200.5 125.4L206.5 119.4M205.7 130.4H211.9M208.8 127.3V133.5M205.8 127.4L211.8 133.4M205.8 133.4L211.8 127.4M210.9 137.7H217.1M214 134.6V140.8M211 134.7L217 140.7M211 140.7L217 134.7M216.2 144.2H222.4M219.3 141.1V147.3M216.3 141.2L222.3 147.2M216.3 147.2L222.3 141.2M221.4 150.4H227.6M224.5 147.3V153.5M221.5 147.4L227.5 153.4M221.5 153.4L227.5 147.4M226.7 156.4H232.8M229.8 153.3V159.5M226.8 153.4L232.8 159.4M226.8 159.4L232.8 153.4M231.9 161.8H238.1M235 158.7V164.9M232 158.8L238 164.8M232 164.8L238 158.8M237.1 166.3H243.3M240.2 163.2V169.4M237.2 163.3L243.2 169.3M237.2 169.3L243.2 163.3M242.4 170.8H248.6M245.5 167.7V173.9M242.5 167.8L248.5 173.8M242.5 173.8L248.5 167.8M247.6 174.8H253.8M250.7 171.7V177.9M247.7 171.8L253.7 177.8M247.7 177.8L253.7 171.8M252.9 179.7H259.1M256 176.6V182.8M253 176.7L259 182.7M253 182.7L259 176.7M258.1 183.8H264.3M261.2 180.7V186.9M258.2 180.8L264.2 186.8M258.2 186.8L264.2 180.8M263.4 187.9H269.6M266.5 184.8V191M263.5 184.9L269.5 190.9M263.5 190.9L269.5 184.9M268.6 191.6H274.8M271.7 188.5V194.7M268.7 188.6L274.7 194.6M268.7 194.6L274.7 188.6M273.8 195.2H280M276.9 192.1V198.3M273.9 192.2L279.9 198.2M273.9 198.2L279.9 192.2M279.1 198.3H285.3M282.2 195.2V201.4M279.2 195.3L285.2 201.3M279.2 201.3L285.2 195.3M284.3 201.4H290.5M287.4 198.3V204.5M284.4 198.4L290.4 204.4M284.4 204.4L290.4 198.4M289.6 204.5H295.8M292.7 201.4V207.6M289.7 201.5L295.7 207.5M289.7 207.5L295.7 201.5M294.8 207H301M297.9 203.9V210.1M294.9 204L300.9 210M294.9 210L300.9 204M300 209.9H306.2M303.1 206.8V213M300.1 206.9L306.1 212.9M300.1 212.9L306.1 206.9M305.3 212.7H311.5M308.4 209.6V215.8M305.4 209.7L311.4 215.7M305.4 215.7L311.4 209.7M310.5 215.3H316.7M313.6 212.2V218.4M310.6 212.3L316.6 218.3M310.6 218.3L316.6 212.3M315.8 217.8H322M318.9 214.7V220.9M315.9 214.8L321.9 220.8M315.9 220.8L321.9 214.8M321 220.2H327.2M324.1 217.1V223.3M321.1 217.2L327.1 223.2M321.1 223.2L327.1 217.2M326.3 222.5H332.5M329.4 219.4V225.6M326.4 219.5L332.4 225.5M326.4 225.5L332.4 219.5M331.5 225.2H337.7M334.6 222.1V228.3M331.6 222.2L337.6 228.2M331.6 228.2L337.6 222.2M336.8 227.4H343M339.9 224.3V230.5M336.9 224.4L342.9 230.4M336.9 230.4L342.9 224.4M342 231.5H348.2M345.1 228.4V234.6M342.1 228.5L348.1 234.5M342.1 234.5L348.1 228.5M347.2 234H353.4M350.3 230.9V237.1M347.3 231L353.3 237M347.3 237L353.3 231M352.5 236.6H358.7M355.6 233.5V239.7M352.6 233.6L358.6 239.6M352.6 239.6L358.6 233.6M357.7 239.1H363.9M360.8 236V242.2M357.8 236.1L363.8 242.1M357.8 242.1L363.8 236.1M363 244.2H369.2M366.1 241.1V247.3M363.1 241.2L369.1 247.2M363.1 247.2L369.1 241.2M368.2 247.3H374.4M371.3 244.2V250.4M368.3 244.3L374.3 250.3M368.3 250.3L374.3 244.3M373.4 248.7H379.7M376.6 245.6V251.8M373.6 245.7L379.6 251.7M373.6 251.7L379.6 245.7M378.7 250.8H384.9M381.8 247.7V253.9M378.8 247.8L384.8 253.8M378.8 253.8L384.8 247.8M383.9 259.7H390.1M387 256.6V262.8M384 256.7L390 262.7M384 262.7L390 256.7M389.2 262.8H395.4M392.3 259.7V265.9M389.3 259.8L395.3 265.8M389.3 265.8L395.3 259.8M394.4 271.3H400.6M397.5 268.2V274.4M394.5 268.3L400.5 274.3M394.5 274.3L400.5 268.3M399.7 272.7H405.9M402.8 269.6V275.8M399.8 269.7L405.8 275.7M399.8 275.7L405.8 269.7M404.9 279H411.1M408 275.9V282.1M405 276L411 282M405 282L411 276M410.1 286.9H416.4M413.2 283.8V290M410.2 283.9L416.2 289.9M410.2 289.9L416.2 283.9M415.4 287.8H421.6M418.5 284.7V290.9M415.5 284.8L421.5 290.8M415.5 290.8L421.5 284.8M420.6 294.4H426.8M423.7 291.3V297.5M420.7 291.4L426.7 297.4M420.7 297.4L426.7 291.4M425.9 295.8H432.1M429 292.7V298.9M426 292.8L432 298.8M426 298.8L432 292.8M431.1 297.7H437.3M434.2 294.6V300.8M431.2 294.7L437.2 300.7M431.2 300.7L437.2 294.7M436.4 303H442.6M439.5 299.9V306.1M436.5 300L442.5 306M436.5 306L442.5 300M441.6 304.1H447.8M444.7 301V307.2M441.7 301.1L447.7 307.1M441.7 307.1L447.7 301.1M446.9 306.5H453.1M450 303.4V309.6M447 303.5L453 309.5M447 309.5L453 303.5M452.1 306.9H458.3M455.2 303.8V310M452.2 303.9L458.2 309.9M452.2 309.9L458.2 303.9M457.3 310.6H463.5M460.4 307.5V313.7M457.4 307.6L463.4 313.6M457.4 313.6L463.4 307.6M462.6 310.6H468.8M465.7 307.5V313.7M462.7 307.6L468.7 313.6M462.7 313.6L468.7 307.6M467.8 311.9H474M470.9 308.8V315M467.9 308.9L473.9 314.9M467.9 314.9L473.9 308.9M473.1 312H479.3M476.2 308.9V315.1M473.2 309L479.2 315M473.2 315L479.2 309M478.3 312.3H484.5M481.4 309.2V315.4M478.4 309.3L484.4 315.3M478.4 315.3L484.4 309.3M483.6 312.6H489.8M486.7 309.5V315.7M483.7 309.6L489.7 315.6M483.7 315.6L489.7 309.6M488.8 312.2H495M491.9 309.1V315.3M488.9 309.2L494.9 315.2M488.9 315.2L494.9 309.2M494 312.3H500.2M497.1 309.2V315.4M494.1 309.3L500.1 315.3M494.1 315.3L500.1 309.3M499.3 312.3H505.5M502.4 309.2V315.4M499.4 309.3L505.4 315.3M499.4 315.3L505.4 309.3"/></g>
<path d="M138 32.8L138.8 32.8L139.6 32.8L140.4 32.8L141.3 32.8L142.1 32.8L142.9 32.8L143.7 32.9L144.5 32.9L145.3 32.9L146.2 32.9L147 33L147.8 33L148.6 33L149.4 33.1L150.2 33.1L151.1 33.3L151.9 33.5L152.7 33.9L153.5 34.3L154.3 34.9L155.1 35.4L155.9 36.1L156.8 36.7L157.6 37.4L158.4 38.1L159.2 38.7L160 39.5L160.8 40.4L161.7 41.3L162.5 42.3L163.3 43.4L164.1 44.5L164.9 45.7L165.7 46.8L166.6 48L167.4 49.3L168.2 50.5L169 51.7L169.8 52.9L170.6 54.2L171.4 55.5L172.3 56.9L173.1 58.2L173.9 59.6L174.7 61.1L175.5 62.5L176.3 64L177.2 65.4L178 66.9L178.8 68.4L179.6 69.8L180.4 71.3L181.2 72.8L182.1 74.3L182.9 75.8L183.7 77.3L184.5 78.8L185.3 80.4L186.1 82L186.9 83.5L187.8 85.1L188.6 86.8L189.4 88.4L190.2 90.1L191 91.9L191.8 93.7L192.7 95.6L193.5 97.5L194.3 99.3L195.1 101L195.9 102.6L196.7 104.1L197.6 105.3L198.4 106.5L199.2 107.6L200 108.6L200.8 109.7L201.6 110.9L202.4 112.1L203.3 113.3L204.1 114.6L204.9 115.8L205.7 117.1L206.5 118.4L207.3 119.6L208.2 120.9L209 122.1L209.8 123.3L210.6 124.5L211.4 125.7L212.2 126.8L213.1 127.9L213.9 129L214.7 130.1L215.5 131.2L216.3 132.2L217.1 133.3L217.9 134.3L218.8 135.3L219.6 136.3L220.4 137.3L221.2 138.4L222 139.4L222.8 140.4L223.7 141.4L224.5 142.4L225.3 143.5L226.1 144.5L226.9 145.5L227.7 146.5L228.6 147.4L229.4 148.4L230.2 149.4L231 150.3L231.8 151.2L232.6 152.1L233.4 153L234.3 153.8L235.1 154.7L235.9 155.5L236.7 156.4L237.5 157.2L238.3 158L239.2 158.8L240 159.6L240.8 160.3L241.6 161.1L242.4 161.8L243.2 162.5L244.1 163.2L244.9 163.9L245.7 164.6L246.5 165.3L247.3 165.9L248.1 166.5L248.9 167.2L249.8 167.8L250.6 168.4L251.4 169L252.2 169.6L253 170.2L253.8 170.8L254.7 171.3L255.5 171.8L256.3 172.4L257.1 172.9L257.9 173.4L258.7 174L259.6 174.6L260.4 175.3L261.2 175.9L262 176.5L262.8 177.2L263.6 177.9L264.4 178.6L265.3 179.3L266.1 180L266.9 180.7L267.7 181.4L268.5 182.1L269.3 182.9L270.2 183.6L271 184.3L271.8 185L272.6 185.7L273.4 186.4L274.2 187.1L275.1 187.8L275.9 188.5L276.7 189.1L277.5 189.7L278.3 190.4L279.1 191L279.9 191.6L280.8 192.1L281.6 192.7L282.4 193.3L283.2 193.8L284 194.3L284.8 194.9L285.7 195.4L286.5 195.9L287.3 196.4L288.1 196.9L288.9 197.4L289.7 197.9L290.6 198.4L291.4 198.9L292.2 199.4L293 199.9L293.8 200.4L294.6 200.8L295.4 201.3L296.3 201.8L297.1 202.2L297.9 202.7L298.7 203.2L299.5 203.6L300.3 204.1L301.2 204.5L302 205L302.8 205.4L303.6 205.9L304.4 206.3L305.2 206.7L306.1 207.1L306.9 207.6L307.7 208L308.5 208.4L309.3 208.8L310.1 209.2L310.9 209.6L311.8 210L312.6 210.4L313.4 210.8L314.2 211.3L315 211.7L315.8 212.1L316.7 212.5L317.5 212.9L318.3 213.4L319.1 213.8L319.9 214.3L320.7 214.7L321.6 215.2L322.4 215.6L323.2 216.1L324 216.6L324.8 217L325.6 217.5L326.4 218L327.3 218.4L328.1 218.9L328.9 219.4L329.7 219.8L330.5 220.3L331.3 220.7L332.2 221.2L333 221.7L333.8 222.1L334.6 222.5L335.4 223L336.2 223.4L337.1 223.9L337.9 224.3L338.7 224.8L339.5 225.2L340.3 225.7L341.1 226.2L341.9 226.6L342.8 227.1L343.6 227.6L344.4 228.1L345.2 228.6L346 229L346.8 229.5L347.7 230L348.5 230.5L349.3 230.9L350.1 231.4L350.9 231.8L351.7 232.3L352.6 232.7L353.4 233.1L354.2 233.6L355 234L355.8 234.4L356.6 234.8L357.4 235.2L358.3 235.7L359.1 236.1L359.9 236.5L360.7 237L361.5 237.4L362.3 237.8L363.2 238.3L364 238.7L364.8 239.2L365.6 239.6L366.4 240.1L367.2 240.5L368.1 241L368.9 241.4L369.7 241.9L370.5 242.3L371.3 242.8L372.1 243.2L372.9 243.6L373.8 244.1L374.6 244.5L375.4 245L376.2 245.4L377 245.8L377.8 246.2L378.7 246.7L379.5 247.1L380.3 247.4L381.1 247.8L381.9 248.2L382.7 248.5L383.6 248.8L384.4 249.1L385.2 249.4L386 249.7L386.8 250L387.6 250.3L388.4 250.6L389.3 250.9L390.1 251.3L390.9 251.7L391.7 252.2L392.5 252.7L393.3 253.2L394.2 253.7L395 254.2L395.8 254.7L396.6 255.2L397.4 255.6L398.2 256.1L399.1 256.6L399.9 257.1L400.7 257.6L401.5 258.1L402.3 258.6L403.1 259.1L403.9 259.6L404.8 260.1L405.6 260.5L406.4 261L407.2 261.5L408 262L408.8 262.5L409.7 263L410.5 263.5L411.3 264L412.1 264.6L412.9 265.1L413.7 265.7L414.6 266.2L415.4 266.8L416.2 267.4L417 268L417.8 268.5L418.6 269.1L419.4 269.7L420.3 270.3L421.1 270.9L421.9 271.5L422.7 272.1L423.5 272.8L424.3 273.4L425.2 273.9L426 274.5L426.8 275L427.6 275.4L428.4 275.9L429.2 276.3L430.1 276.8L430.9 277.3L431.7 277.8L432.5 278.4L433.3 279.1L434.1 279.8L434.9 280.4L435.8 281.1L436.6 281.8L437.4 282.5L438.2 283.3L439 284L439.8 284.7L440.7 285.5L441.5 286.3L442.3 287L443.1 287.8L443.9 288.6L444.7 289.4L445.6 290.3L446.4 291.2L447.2 292.1L448 293L448.8 294.1L449.6 295.1L450.4 296.2L451.3 297.3L452.1 298.6L452.9 299.9L453.7 301.1L454.5 302.4L455.3 303.5L456.2 304.6L457 305.6L457.8 306.7L458.6 307.7L459.4 308.7L460.2 309.8L461.1 311.1L461.9 312.6L462.7 314.5L463.5 316.5" stroke="#000" stroke-width="1.6" stroke-dasharray="3.4 2.2 1.1 2.2"/>
<rect x="138.0" y="32.5" width="367.0" height="284.0" stroke="#000" stroke-width="1.3"/>
<!-- legend -->
<g stroke-width="0.8">
<path d="M401.7 51.5H472.5M401.7 48.6v5.8M472.5 48.6v5.8M433.9 51.5h6M436.9 48.5v6" stroke="#f00"/>
<path d="M401.7 78.5H472.5M401.7 75.6v5.8M472.5 75.6v5.8M433.9 75.5l6 6M433.9 81.5l6 -6" stroke="#0f0"/>
<path d="M401.7 105.8H472.5M401.7 102.9v5.8M472.5 102.9v5.8M433.9 105.8h6M436.9 102.8v6M433.9 102.8l6 6M433.9 108.8l6 -6" stroke="#00f"/>
</g>
</g>
<g>
<text x="117.5" y="41.5" text-anchor="end">1</text>
<text x="121.6" y="184" text-anchor="end" textLength="37" lengthAdjust="spacingAndGlyphs">0.5</text>
<text x="122" y="325.5" text-anchor="end">0</text>
<text x="141.2" y="353.5" text-anchor="middle">0</text><text x="193.6" y="353.5" text-anchor="middle">1</text><text x="246.1" y="353.5" text-anchor="middle">2</text><text x="298.5" y="353.5" text-anchor="middle">3</text><text x="350.9" y="353.5" text-anchor="middle">4</text><text x="403.3" y="353.5" text-anchor="middle">5</text><text x="455.8" y="353.5" text-anchor="middle">6</text><text x="508.2" y="353.5" text-anchor="middle">7</text>
<text x="321.3" y="379.6" text-anchor="middle">T</text>
<text transform="translate(66.5,189.3) rotate(-90) scale(1.04,0.9)">μ</text>
<text class="sub" transform="translate(74,171.6) rotate(-90)">x</text>
<text transform="translate(373.6,59.3) scale(1.04,0.9)" text-anchor="end">μ</text>
<text class="sub" x="386" y="66" text-anchor="end">0</text>
<text transform="translate(373.6,85.4) scale(1.04,0.9)" text-anchor="end">μ</text>
<text class="sub" x="386" y="92.4" text-anchor="end">1</text>
<text transform="translate(349.4,113) scale(1.04,0.9)" text-anchor="end">μ</text>
<text class="sub" x="386" y="119.3" text-anchor="end">β+1</text>
<text x="400.5" y="155" textLength="68" lengthAdjust="spacingAndGlyphs">β=0.5</text>
</g>
</svg>
</body></html>
